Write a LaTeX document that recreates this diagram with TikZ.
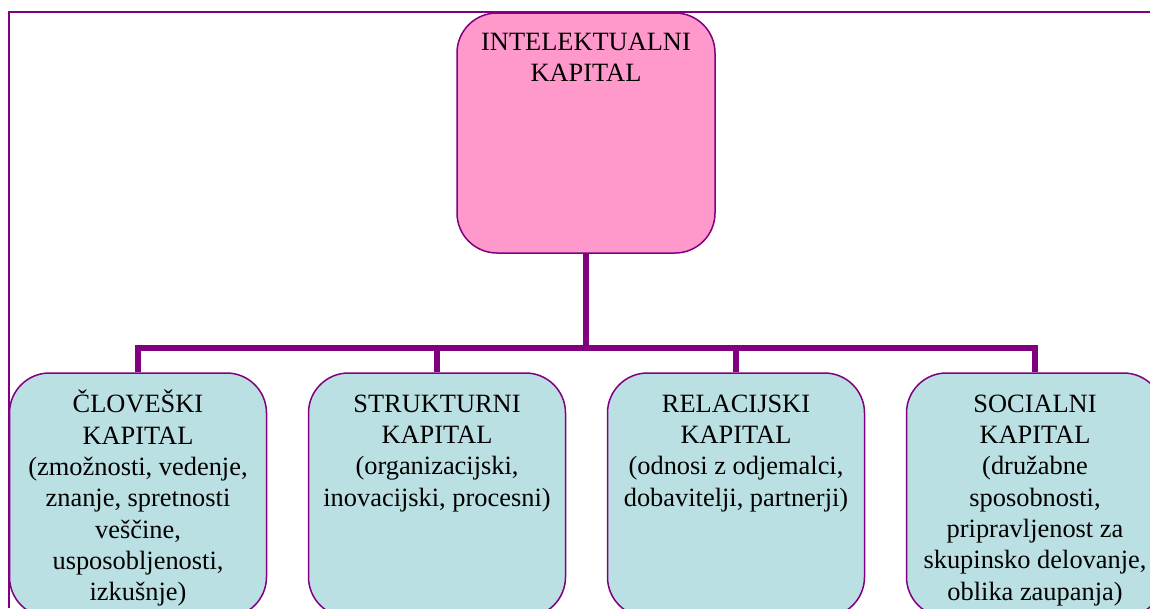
\documentclass[tikz,border=0pt]{standalone}
\usepackage{fontspec}
\setmainfont{Liberation Serif}
\definecolor{frame}{HTML}{800080}
\definecolor{pinkfill}{HTML}{FF99CC}
\definecolor{bluefill}{HTML}{BBE0E3}
\begin{document}
\begin{tikzpicture}[x=1pt,y=1pt,
  box/.style={draw=frame,line width=1.5pt,rounded corners=40pt,
              minimum width=257pt,minimum height=244pt,inner sep=0pt},
  topbox/.style={box,fill=pinkfill,minimum width=258pt,minimum height=240pt},
  subbox/.style={box,fill=bluefill},
  txt/.style={anchor=north,align=center,inner sep=0pt,
              font=\fontsize{26.4}{31.3}\selectfont},
  conn/.style={draw=frame,line width=5.5pt},
  rim/.style={draw=frame}]
\useasboundingbox (0,-608) rectangle (1150,0);
\clip (0,-608) rectangle (1150,0);
\fill[white] (0,-608) rectangle (1150,0);

% page frame (top and left edges)
\coordinate (fa) at (8.8,-608);
\coordinate (fb) at (8.8,-12);
\coordinate (fc) at (1150,-12);
\draw[rim,line width=1.6pt] (fa) -- (fb);
\draw[rim,line width=1.8pt] (8,-12) -- (fc);

% boxes
\node[topbox] (ic) at (586,-133) {};
\node[subbox] (b1) at (138,-495) {};
\node[subbox] (b2) at (437,-495) {};
\node[subbox] (b3) at (736,-495) {};
\node[subbox] (b4) at (1035,-495) {};

% tree connectors
\coordinate (bar) at (586,-348);
\draw[conn] (ic.south) -- (bar);
\draw[conn] (b1.north) -- (b1.north |- bar) -| (b4.north);
\draw[conn] (b2.north) -- (b2.north |- bar);
\draw[conn] (b3.north) -- (b3.north |- bar);

% texts
\node[txt] (t0) at (586,-28.1) {\strut INTELEKTUALNI\\KAPITAL};
\node[txt] (t1) at (138,-390.1) {\strut ČLOVEŠKI\\KAPITAL\\(zmožnosti, vedenje,\\znanje, spretnosti\\veščine,\\usposobljenosti,\\izkušnje)};
\node[txt] (t2) at (437,-390.1) {\strut STRUKTURNI\\KAPITAL\\(organizacijski,\\inovacijski, procesni)};
\node[txt] (t3) at (736,-390.1) {\strut RELACIJSKI\\KAPITAL\\(odnosi z odjemalci,\\dobavitelji, partnerji)};
\node[txt] (t4) at (1035,-390.1) {\strut SOCIALNI\\KAPITAL\\(družabne\\sposobnosti,\\pripravljenost za\\skupinsko delovanje,\\oblika zaupanja)};
\end{tikzpicture}
\end{document}
